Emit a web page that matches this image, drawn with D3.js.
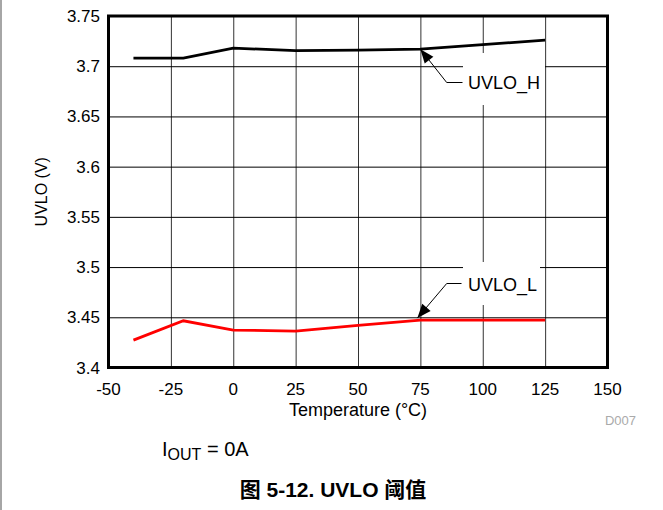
<!DOCTYPE html>
<html><head><meta charset="utf-8">
<script src="https://cdn.jsdelivr.net/npm/d3@7"></script>
<style>
html,body{margin:0;padding:0;background:#fff;}
svg{display:block;font-family:"Liberation Sans",Arial,sans-serif;}
</style></head>
<body>
<svg id="c" width="663" height="510"></svg>
<script>
const temps = [-40, -20, 0, 25, 50, 75, 100, 125];
const uvloH = [3.708, 3.708, 3.718, 3.7155, 3.716, 3.717, 3.7215, 3.726];
const uvloL = [3.4273, 3.4465, 3.4373, 3.4363, 3.4419, 3.4472, 3.4472, 3.4472];
const xTicks = [-50, -25, 0, 25, 50, 75, 100, 125, 150];
const yTicks = [3.4, 3.45, 3.5, 3.55, 3.6, 3.65, 3.7, 3.75];
const xTitle = "Temperature (°C)";
const yTitle = "UVLO (V)";
const labelH = "UVLO_H", labelL = "UVLO_L";

const svg = d3.select("#c");
const L = 108.5, R = 607.5, T = 16, B = 367.5;
const x = d3.scaleLinear().domain([-50, 150]).range([L, R]);
const y = d3.scaleLinear().domain([3.4, 3.75]).range([B, T]);

// page border on left
svg.append("line").attr("x1", 1).attr("x2", 1).attr("y1", 0).attr("y2", 510)
  .attr("stroke", "#888").attr("stroke-width", 1.5);

// grid
const gx = svg.append("g").attr("transform", `translate(0,${B})`)
  .call(d3.axisBottom(x).tickValues(xTicks).tickSize(-(B - T)).tickFormat(""));
gx.select(".domain").remove();
gx.selectAll("line").attr("stroke", "#333").attr("stroke-width", 1);
const gy = svg.append("g").attr("transform", `translate(${L},0)`)
  .call(d3.axisLeft(y).tickValues(yTicks).tickSize(-(R - L)).tickFormat(""));
gy.select(".domain").remove();
gy.selectAll("line").attr("stroke", "#000").attr("stroke-width", 1);

// tick labels
svg.append("g").selectAll("text").data(xTicks).join("text")
  .attr("x", d => x(d)).attr("y", 395).attr("text-anchor", "middle")
  .attr("font-size", 17).text(d => d);
svg.append("g").selectAll("text").data(yTicks).join("text")
  .attr("x", 100).attr("y", d => y(d) + 6).attr("text-anchor", "end")
  .attr("font-size", 17).text(d => d);

// axis titles
svg.append("text").attr("x", (L + R) / 2).attr("y", 416).attr("text-anchor", "middle")
  .attr("font-size", 18).text(xTitle);
svg.append("text").attr("transform", `translate(47,${(T + B) / 2}) rotate(-90)`)
  .attr("text-anchor", "middle").attr("font-size", 16).text(yTitle);

// annotation boxes
svg.append("rect").attr("x", 463).attr("y", 53).attr("width", 82).attr("height", 52).attr("fill", "#fff");
svg.append("rect").attr("x", 463).attr("y", 262).attr("width", 77).attr("height", 43).attr("fill", "#fff");

// data lines
const line = d3.line().x((d, i) => x(temps[i])).y(d => y(d));
svg.append("path").datum(uvloH).attr("d", line).attr("fill", "none")
  .attr("stroke", "#000").attr("stroke-width", 2.8);
svg.append("path").datum(uvloL).attr("d", line).attr("fill", "none")
  .attr("stroke", "#ff0000").attr("stroke-width", 2.8);

// frame
svg.append("rect").attr("x", L).attr("y", T).attr("width", R - L).attr("height", B - T)
  .attr("fill", "none").attr("stroke", "#000").attr("stroke-width", 3);

// arrows
function arrow(tipX, tipY, fromX, fromY) {
  const ang = Math.atan2(tipY - fromY, tipX - fromX);
  const len = 14, w = 5.5;
  const bx = tipX - len * Math.cos(ang), by = tipY - len * Math.sin(ang);
  const px = -Math.sin(ang) * w, py = Math.cos(ang) * w;
  svg.append("path").attr("d", `M${tipX},${tipY}L${bx + px},${by + py}L${bx - px},${by - py}Z`)
    .attr("fill", "#000");
}
// H leader
const hTip = [x(75), y(uvloH[5])];
svg.append("path").attr("d", `M462.5,82.5H446.7L${hTip[0]},${hTip[1]}`)
  .attr("fill", "none").attr("stroke", "#000").attr("stroke-width", 1);
arrow(hTip[0], hTip[1], 446.7, 82.5);
svg.append("text").attr("x", 468).attr("y", 89).attr("font-size", 18).text(labelH);

// L leader
const lTip = [x(75) - 3, y(uvloL[5]) - 2];
svg.append("path").attr("d", `M461.5,283.5H446.7L${lTip[0]},${lTip[1]}`)
  .attr("fill", "none").attr("stroke", "#000").attr("stroke-width", 1);
arrow(lTip[0], lTip[1], 446.7, 283.5);
svg.append("text").attr("x", 468).attr("y", 291).attr("font-size", 18).text(labelL);

// D007
svg.append("text").attr("x", 636).attr("y", 425).attr("text-anchor", "end")
  .attr("font-size", 13).attr("fill", "#aaa").text("D007");

// I_OUT
const io = svg.append("text").attr("x", 162).attr("y", 456).attr("font-size", 20);
io.append("tspan").text("I");
io.append("tspan").attr("font-size", 16).attr("dy", 4).text("OUT");
io.append("tspan").attr("dy", -4).text(" = 0A");

// caption
svg.append("text").attr("x", 333).attr("y", 497).attr("text-anchor", "middle")
  .attr("font-size", 21).attr("font-weight", "bold")
  .attr("font-family", "'Liberation Sans','Noto Sans CJK SC',sans-serif")
  .text("图 5-12. UVLO 阈值");
</script>
</body></html>
